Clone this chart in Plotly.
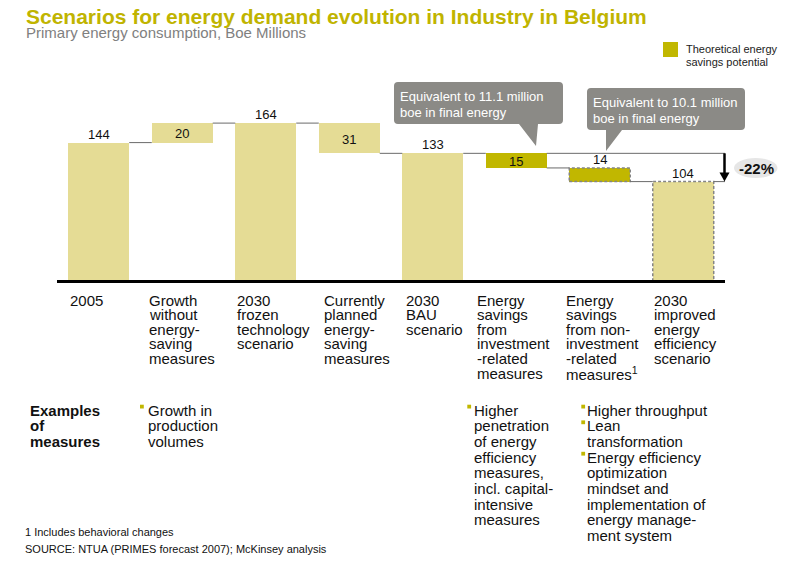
import plotly.graph_objects as go

# ---------------- data ----------------
categories = [
    "2005",
    "Growth<br>without<br>energy-<br>saving<br>measures",
    "2030<br>frozen<br>technology<br>scenario",
    "Currently<br>planned<br>energy-<br>saving<br>measures",
    "2030<br>BAU<br>scenario",
    "Energy<br>savings<br>from<br>investment<br>-related<br>measures",
    "Energy<br>savings<br>from non-<br>investment<br>-related<br>measures<sup>1</sup>",
    "2030<br>improved<br>energy<br>efficiency<br>scenario",
]
values = [144, 20, 164, 31, 133, 15, 14, 104]
step_types = ["total", "increase", "total", "decrease", "total", "decrease", "decrease", "total"]
savings_potential = [False, False, False, False, False, True, True, False]
dashed_outline = [False, False, False, False, False, False, True, True]
label_inside = [False, True, False, True, False, True, False, False]

callout_texts = [
    ["Equivalent to 11.1 million", "boe in final energy"],
    ["Equivalent to 10.1 million", "boe in final energy"],
]
change_label = "-22%"
legend_text = ["Theoretical energy", "savings potential"]

examples_title = ["Examples", "of", "measures"]
examples_growth = [["Growth in", "production", "volumes"]]
examples_invest = [["Higher", "penetration", "of energy", "efficiency", "measures,",
                    "incl. capital-", "intensive", "measures"]]
examples_noninvest = [["Higher throughput"], ["Lean", "transformation"],
                      ["Energy efficiency", "optimization", "mindset and",
                       "implementation of", "energy manage-", "ment system"]]

title_text = "Scenarios for energy demand evolution in Industry in Belgium"
subtitle_text = "Primary energy consumption, Boe Millions"
footnote_text = "1 Includes behavioral changes"
source_text = "SOURCE: NTUA (PRIMES forecast 2007); McKinsey analysis"

# ---------------- styles / layout ----------------
W, H = 792, 569
ML, MR, MT, MB = 57, 67, 117, 286
PW, PH = W - ML - MR, H - MT - MB
YMAX = 170.26
FONT = "Liberation Sans, Arial, sans-serif"
LIGHT = "#E5DC95"
DARK = "#C1B700"
TITLE_C = "#C0B400"
GREY_BOX = "#8B8A86"
TXT = "#111111"
BAR_W = 0.73
PAD = 2  # annotation inner padding compensation for left-anchored text


def PX(px):
    return (px - ML) / PW


def PY(py):
    return (MT + PH - py) / PH


def XD(px):
    return (px - ML) / PW * 8 - 0.5


def YPIX(v):
    return MT + PH - v / YMAX * PH


def text_left(px, py, text, size, color=TXT):
    return dict(x=PX(px - PAD), y=PY(py), xref="paper", yref="paper", text=text,
                showarrow=False, xanchor="left", yanchor="middle",
                font=dict(size=size, color=color, family=FONT))


# ---------------- waterfall computation ----------------
bases, tops = [], []
level = 0
for v, t in zip(values, step_types):
    if t == "total":
        b = 0
        level = v
    elif t == "increase":
        b = level
        level = level + v
    else:
        level = level - v
        b = level
    bases.append(b)
    tops.append(b + v)

xs = list(range(len(values)))
colors = [DARK if s else LIGHT for s in savings_potential]

fig = go.Figure()
fig.add_trace(go.Bar(
    x=xs, y=values, base=bases, width=BAR_W,
    marker=dict(color=colors, line=dict(width=0)),
    hoverinfo="skip", showlegend=False,
))

shapes = []
ann = []

# dashed outlines
for i in xs:
    if dashed_outline[i]:
        shapes.append(dict(type="rect", xref="x", yref="y",
                           x0=i - BAR_W / 2, x1=i + BAR_W / 2, y0=bases[i], y1=tops[i],
                           line=dict(color="#858585", width=1.5, dash="3px,2px"),
                           fillcolor="rgba(0,0,0,0)", layer="above"))

# connectors
conn_color = "#6A6A6A"
level_after = []
for i in xs:
    level_after.append(bases[i] if step_types[i] == "decrease" else tops[i])
for i in range(len(values) - 1):
    y = level_after[i]
    shapes.append(dict(type="line", xref="x", yref="y",
                       x0=i + BAR_W / 2, x1=i + 1 - BAR_W / 2, y0=y, y1=y,
                       line=dict(color=conn_color, width=1)))
arrow_px = 724.5
line_end = XD(729)
shapes.append(dict(type="line", xref="x", yref="y", x0=5 + BAR_W / 2, x1=line_end,
                   y0=tops[4], y1=tops[4], line=dict(color=conn_color, width=1)))
shapes.append(dict(type="line", xref="x", yref="y", x0=7 + BAR_W / 2, x1=line_end,
                   y0=tops[7], y1=tops[7], line=dict(color=conn_color, width=1)))

# baseline axis
shapes.append(dict(type="line", xref="x", yref="y", x0=-0.5, x1=7.5, y0=1.0, y1=1.0,
                   line=dict(color="black", width=4)))

# value labels
for i in xs:
    if label_inside[i]:
        ann.append(dict(x=i, y=(bases[i] + tops[i]) / 2, xref="x", yref="y",
                        text=str(values[i]), showarrow=False, xanchor="center",
                        yanchor="middle", yshift=-1,
                        font=dict(size=13, color=TXT, family=FONT)))
    else:
        ann.append(dict(x=i, y=tops[i], xref="x", yref="y", text=str(values[i]),
                        showarrow=False, xanchor="center", yanchor="middle", yshift=8.5,
                        font=dict(size=13, color=TXT, family=FONT)))

# -22% arrow (shaft + head)
y_from = YPIX(tops[4])
y_to = YPIX(tops[7])
shapes.append(dict(type="line", xref="paper", yref="paper", x0=PX(arrow_px), x1=PX(arrow_px),
                   y0=PY(y_from), y1=PY(y_to - 7), line=dict(color="black", width=2.5)))
shapes.append(dict(type="path", xref="paper", yref="paper",
                   path=(f"M {PX(arrow_px - 5):.5f},{PY(y_to - 9):.5f} "
                         f"L {PX(arrow_px + 5):.5f},{PY(y_to - 9):.5f} "
                         f"L {PX(arrow_px):.5f},{PY(y_to):.5f} Z"),
                   fillcolor="black", line=dict(width=0)))
shapes.append(dict(type="circle", xref="paper", yref="paper",
                   x0=PX(734), x1=PX(777.5), y0=PY(178), y1=PY(158),
                   fillcolor="#E6E6E6", line=dict(width=0)))
ann.append(dict(x=PX(756), y=PY(168), xref="paper", yref="paper",
                text="<b>" + change_label + "</b>", showarrow=False,
                xanchor="center", yanchor="middle",
                font=dict(size=15, color=TXT, family=FONT)))


# callouts
def pts_path(pts):
    s = ""
    for cmd, coords in pts:
        c = " ".join(f"{PX(coords[j]):.5f},{PY(coords[j + 1]):.5f}" for j in range(0, len(coords), 2))
        s += f"{cmd} {c} "
    return s + "Z"


def callout(x0, x1, y0, y1, tail_l, tail_r, tip, r=4):
    pts = [("M", (x0 + r, y0)), ("L", (x1 - r, y0)), ("Q", (x1, y0, x1, y0 + r)),
           ("L", (x1, y1 - r)), ("Q", (x1, y1, x1 - r, y1)),
           ("L", (tail_r, y1)), ("L", tip), ("L", (tail_l, y1)),
           ("L", (x0 + r, y1)), ("Q", (x0, y1, x0, y1 - r)),
           ("L", (x0, y0 + r)), ("Q", (x0, y0, x0 + r, y0))]
    return dict(type="path", xref="paper", yref="paper", path=pts_path(pts),
                fillcolor=GREY_BOX, line=dict(width=0))


shapes.append(callout(394, 563, 82, 124, 519, 538, (536, 146)))
shapes.append(callout(587, 745, 88, 130, 606, 622, (606, 151)))
callout_pos = [(399.5, 96), (592.5, 102)]
for (cx, cy), lines in zip(callout_pos, callout_texts):
    for k, ln in enumerate(lines):
        ann.append(text_left(cx, cy + 16 * k, ln, 13, "white"))

# legend
shapes.append(dict(type="rect", xref="paper", yref="paper", x0=PX(663), x1=PX(678),
                   y0=PY(57), y1=PY(42), fillcolor=DARK, line=dict(width=0)))
for k, ln in enumerate(legend_text):
    ann.append(text_left(686, 48.5 + 14 * k, ln, 11, "#222222"))

# title + subtitle
ann.append(text_left(26, 16.5, "<b>" + title_text + "</b>", 21, TITLE_C))
ann.append(text_left(26, 32, subtitle_text, 15, "#808080"))

# category labels
cat_left = [70, 149, 237, 324, 406, 477, 566, 654]
for i, lab in enumerate(categories):
    for k, ln in enumerate(lab.split("<br>")):
        ann.append(text_left(cat_left[i], 300 + 14.6 * k, ln, 15))

# examples
LS = 15.7
for k, ln in enumerate(examples_title):
    ann.append(text_left(30, 410 + LS * k, "<b>" + ln + "</b>", 15))


def bullets(groups, bx, tx):
    row = 0
    for g in groups:
        y_b = 410 + LS * row
        shapes.append(dict(type="rect", xref="paper", yref="paper", x0=PX(bx), x1=PX(bx + 3.8),
                           y0=PY(y_b - 1.5), y1=PY(y_b - 5.3), fillcolor=DARK, line=dict(width=0)))
        for ln in g:
            ann.append(text_left(tx, 410 + LS * row, ln, 15))
            row += 1


bullets(examples_growth, 140, 147.5)
bullets(examples_invest, 467.3, 474)
bullets(examples_noninvest, 581.3, 587)

# footnotes
ann.append(text_left(25, 531.5, footnote_text, 11))
ann.append(text_left(25, 549, source_text, 11))

fig.update_layout(
    width=W, height=H,
    margin=dict(l=ML, r=MR, t=MT, b=MB, pad=0),
    paper_bgcolor="white", plot_bgcolor="white",
    xaxis=dict(range=[-0.5, 7.5], visible=False, fixedrange=True),
    yaxis=dict(range=[0, YMAX], visible=False, fixedrange=True),
    shapes=shapes, annotations=ann, showlegend=False, bargap=0,
)

fig.write_html("out.html")
